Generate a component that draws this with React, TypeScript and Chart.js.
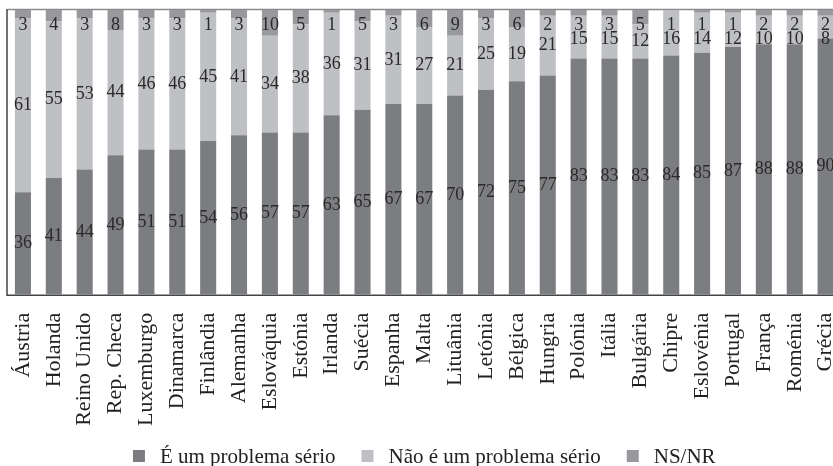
import React, { useEffect, useRef } from "react";
import { Chart, registerables } from "chart.js";

Chart.register(...registerables);

const countries = [
  "Áustria", "Holanda", "Reino Unido", "Rep. Checa", "Luxemburgo", "Dinamarca",
  "Finlândia", "Alemanha", "Eslováquia", "Estónia", "Irlanda", "Suécia",
  "Espanha", "Malta", "Lituânia", "Letónia", "Bélgica", "Hungria", "Polónia",
  "Itália", "Bulgária", "Chipre", "Eslovénia", "Portugal", "França", "Roménia", "Grécia",
];

const serious = [36, 41, 44, 49, 51, 51, 54, 56, 57, 57, 63, 65, 67, 67, 70, 72, 75, 77, 83, 83, 83, 84, 85, 87, 88, 88, 90];
const notSerious = [61, 55, 53, 44, 46, 46, 45, 41, 34, 38, 36, 31, 31, 27, 21, 25, 19, 21, 15, 15, 12, 16, 14, 12, 10, 10, 8];
const nsnr = [3, 4, 3, 8, 3, 3, 1, 3, 10, 5, 1, 5, 3, 6, 9, 3, 6, 2, 3, 3, 5, 1, 1, 1, 2, 2, 2];

const seriesNames = ["É um problema sério", "Não é um problema sério", "NS/NR"];
const colors = ["#7c7d81", "#bfc0c4", "#98999d"];
const FONT = "'Liberation Serif', 'Times New Roman', serif";

const frame = {
  id: "frame",
  beforeDatasetsDraw(chart: any) {
    const { ctx, chartArea: a } = chart;
    ctx.save();
    ctx.lineWidth = 1.5;
    ctx.strokeStyle = "#8a8a8a";
    ctx.beginPath();
    ctx.moveTo(a.left, a.top - 0.5);
    ctx.lineTo(a.right + 40, a.top - 0.5);
    ctx.stroke();
    ctx.strokeStyle = "#444";
    ctx.beginPath();
    ctx.moveTo(a.left - 0.5, a.top - 1);
    ctx.lineTo(a.left - 0.5, a.bottom + 0.5);
    ctx.lineTo(a.right + 40, a.bottom + 0.5);
    ctx.stroke();
    ctx.restore();
  },
};

const valueLabels = {
  id: "valueLabels",
  afterDatasetsDraw(chart: any) {
    const { ctx, chartArea: a } = chart;
    ctx.save();
    ctx.font = `18px ${FONT}`;
    ctx.fillStyle = "#2a2a2a";
    ctx.textAlign = "center";
    ctx.textBaseline = "middle";
    const m0 = chart.getDatasetMeta(0).data;
    const m1 = chart.getDatasetMeta(1).data;
    const m2 = chart.getDatasetMeta(2).data;
    for (let i = 0; i < m0.length; i++) {
      const b0 = m0[i], b1 = m1[i], b2 = m2[i];
      const top2 = Math.max(b2.y, a.top);
      const c2 = Math.max((top2 + b2.base) / 2, a.top + 15);
      const c1 = Math.max((b1.y + b1.base) / 2, c2 + 14);
      const c0 = (b0.y + b0.base) / 2;
      ctx.fillText(String(nsnr[i]), b2.x, c2);
      ctx.fillText(String(notSerious[i]), b1.x, c1);
      ctx.fillText(String(serious[i]), b0.x, c0);
    }
    ctx.restore();
  },
};

const bottomLegend = {
  id: "bottomLegend",
  afterDraw(chart: any) {
    const { ctx, chartArea: a } = chart;
    ctx.save();
    ctx.font = `21px ${FONT}`;
    ctx.textBaseline = "middle";
    ctx.textAlign = "left";
    const box = 12, gapText = 15, gapItem = 26;
    const widths = seriesNames.map((s) => box + gapText + ctx.measureText(s).width);
    const total = widths.reduce((p, w) => p + w, 0) + gapItem * (widths.length - 1);
    let x = (a.left + a.right) / 2 - total / 2;
    const cy = 456;
    chart.data.datasets.forEach((ds: any, i: number) => {
      ctx.fillStyle = ds.backgroundColor;
      ctx.fillRect(x, cy - box / 2, box, box);
      ctx.fillStyle = "#222";
      ctx.fillText(ds.label, x + box + gapText, cy + 1);
      x += widths[i] + gapItem;
    });
    ctx.restore();
  },
};

export default function App() {
  const ref = useRef<HTMLCanvasElement>(null);
  useEffect(() => {
    const chart = new Chart(ref.current!, {
      type: "bar",
      data: {
        labels: countries,
        datasets: [serious, notSerious, nsnr].map((d, i) => ({
          label: seriesNames[i],
          data: d,
          backgroundColor: colors[i],
          borderWidth: 0,
          barPercentage: 0.52,
          categoryPercentage: 1,
        })),
      },
      options: {
        responsive: false,
        animation: false,
        devicePixelRatio: 1,
        layout: { padding: { left: 7.5, right: 0, top: 10, bottom: 22 } },
        plugins: {
          tooltip: { enabled: false },
          legend: { display: false },
        },
        scales: {
          x: {
            stacked: true,
            grid: { display: false, drawTicks: false },
            border: { display: false },
            ticks: {
              minRotation: 90,
              maxRotation: 90,
              padding: 18,
              color: "#222",
              font: { family: FONT, size: 22 },
            },
          },
          y: {
            stacked: true,
            display: false,
            min: 0,
            max: 100,
          },
        },
      },
      plugins: [frame, valueLabels, bottomLegend],
    });
    return () => chart.destroy();
  }, []);
  return (
    <div style={{ position: "fixed", left: 0, top: 0, width: 833, height: 466, overflow: "hidden", background: "#fff" }}>
      <canvas ref={ref} width={870} height={466} style={{ display: "block" }} />
    </div>
  );
}
